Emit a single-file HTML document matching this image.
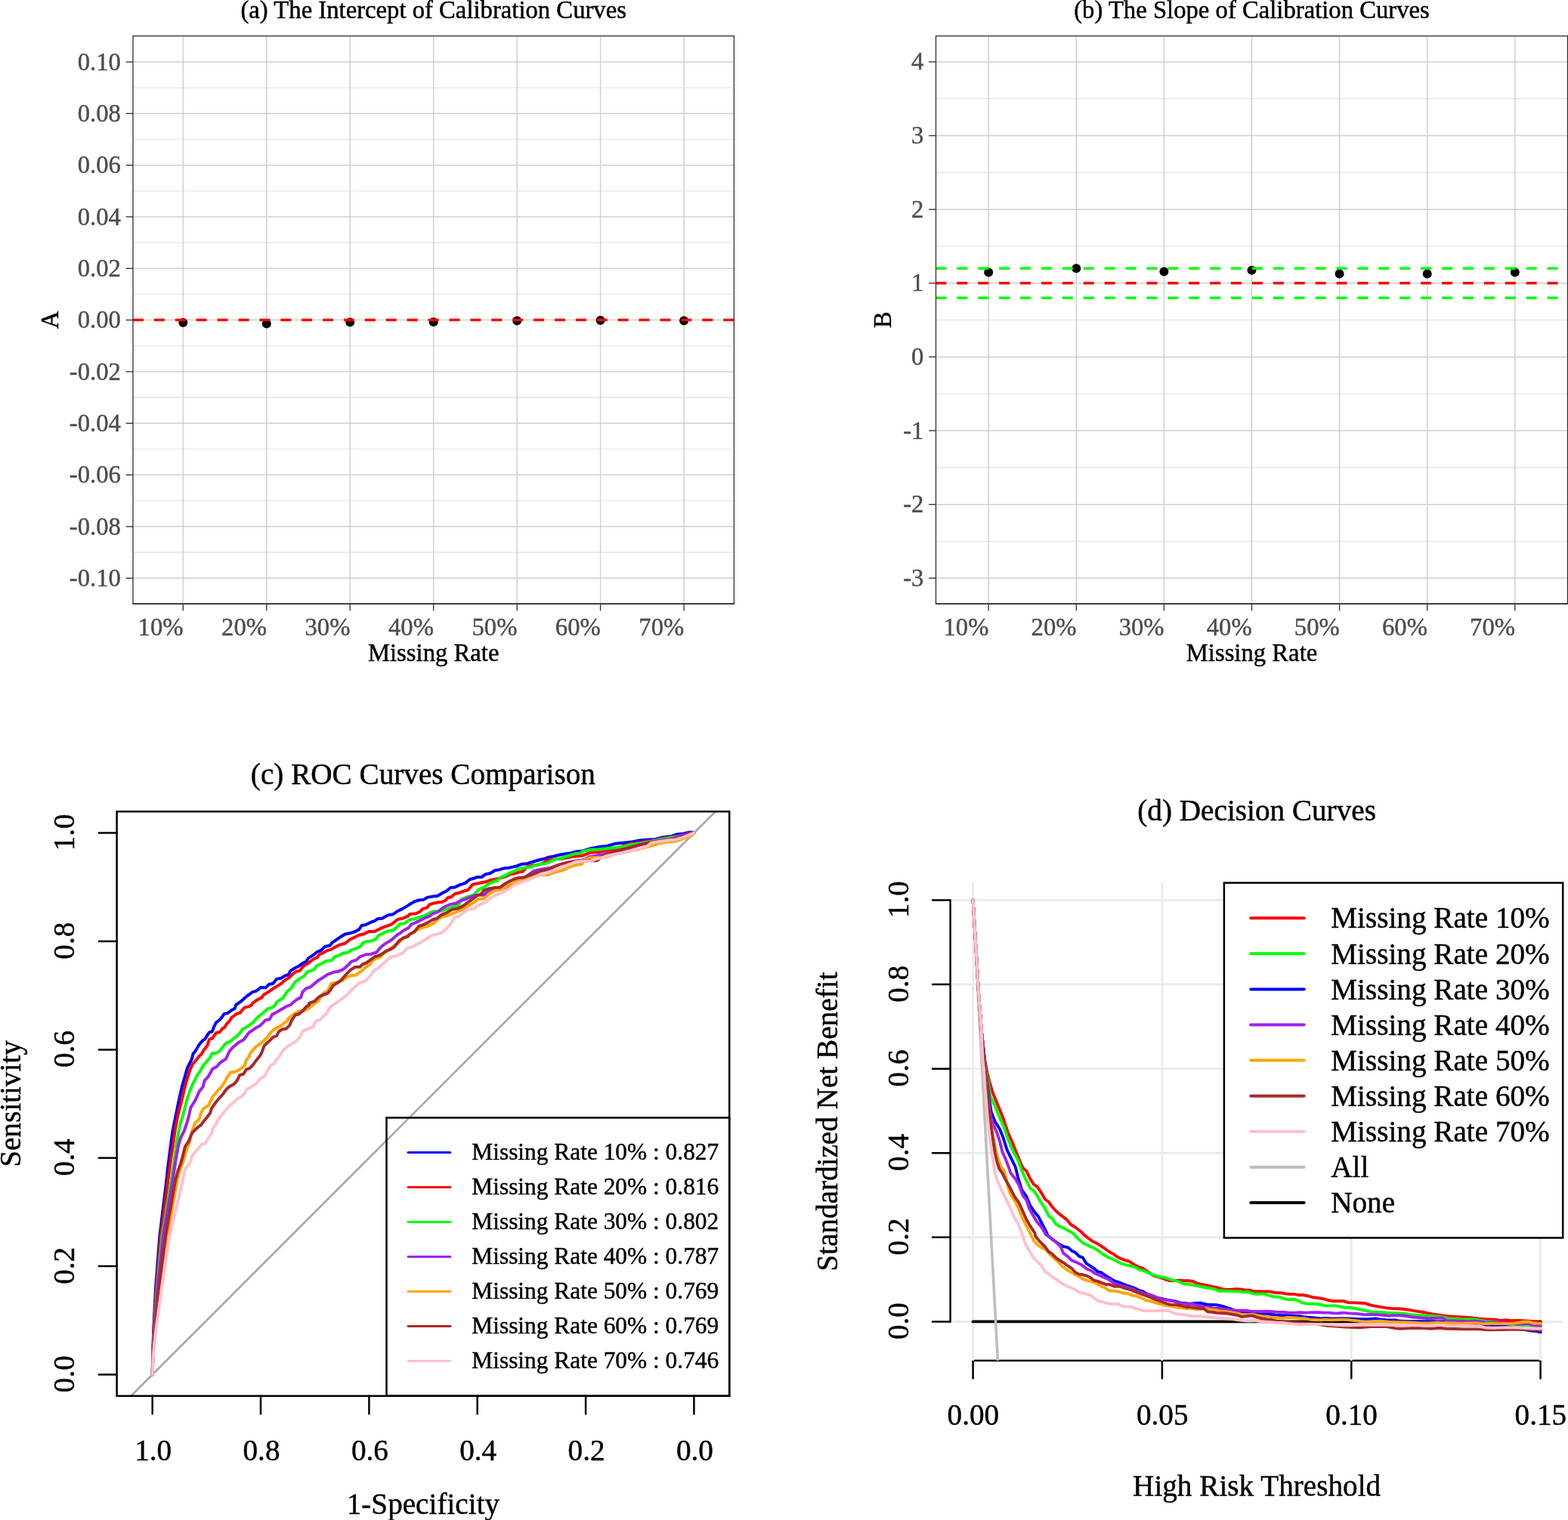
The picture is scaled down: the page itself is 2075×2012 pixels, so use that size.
<!DOCTYPE html>
<html lang="en"><head><meta charset="utf-8"><title>Calibration, ROC and Decision Curves</title>
<style>html,body{margin:0;padding:0;background:#fff}body{width:2075px;height:2012px;overflow:hidden}svg{display:block}text{white-space:pre;font-variant-ligatures:none;font-kerning:auto}</style>
</head><body>
<svg width="2075" height="2012" viewBox="0 0 2075 2012" font-family="'Liberation Serif', 'Times New Roman', serif">
<rect width="2075" height="2012" fill="#fff"/>
<g>
<line x1="176" y1="731.1" x2="971.4" y2="731.1" stroke="#e9e9e9" stroke-width="1.6" />
<line x1="176" y1="662.8" x2="971.4" y2="662.8" stroke="#e9e9e9" stroke-width="1.6" />
<line x1="176" y1="594.5" x2="971.4" y2="594.5" stroke="#e9e9e9" stroke-width="1.6" />
<line x1="176" y1="526.1" x2="971.4" y2="526.1" stroke="#e9e9e9" stroke-width="1.6" />
<line x1="176" y1="457.8" x2="971.4" y2="457.8" stroke="#e9e9e9" stroke-width="1.6" />
<line x1="176" y1="389.5" x2="971.4" y2="389.5" stroke="#e9e9e9" stroke-width="1.6" />
<line x1="176" y1="321.2" x2="971.4" y2="321.2" stroke="#e9e9e9" stroke-width="1.6" />
<line x1="176" y1="252.8" x2="971.4" y2="252.8" stroke="#e9e9e9" stroke-width="1.6" />
<line x1="176" y1="184.5" x2="971.4" y2="184.5" stroke="#e9e9e9" stroke-width="1.6" />
<line x1="176" y1="116.2" x2="971.4" y2="116.2" stroke="#e9e9e9" stroke-width="1.6" />
<line x1="176" y1="82" x2="971.4" y2="82" stroke="#d0d0d0" stroke-width="1.5" />
<line x1="176" y1="150.3" x2="971.4" y2="150.3" stroke="#d0d0d0" stroke-width="1.5" />
<line x1="176" y1="218.7" x2="971.4" y2="218.7" stroke="#d0d0d0" stroke-width="1.5" />
<line x1="176" y1="287" x2="971.4" y2="287" stroke="#d0d0d0" stroke-width="1.5" />
<line x1="176" y1="355.3" x2="971.4" y2="355.3" stroke="#d0d0d0" stroke-width="1.5" />
<line x1="176" y1="423.6" x2="971.4" y2="423.6" stroke="#d0d0d0" stroke-width="1.5" />
<line x1="176" y1="492" x2="971.4" y2="492" stroke="#d0d0d0" stroke-width="1.5" />
<line x1="176" y1="560.3" x2="971.4" y2="560.3" stroke="#d0d0d0" stroke-width="1.5" />
<line x1="176" y1="628.6" x2="971.4" y2="628.6" stroke="#d0d0d0" stroke-width="1.5" />
<line x1="176" y1="697" x2="971.4" y2="697" stroke="#d0d0d0" stroke-width="1.5" />
<line x1="176" y1="765.3" x2="971.4" y2="765.3" stroke="#d0d0d0" stroke-width="1.5" />
<line x1="242.3" y1="47.6" x2="242.3" y2="799.3" stroke="#d0d0d0" stroke-width="1.5" />
<line x1="352.8" y1="47.6" x2="352.8" y2="799.3" stroke="#d0d0d0" stroke-width="1.5" />
<line x1="463.2" y1="47.6" x2="463.2" y2="799.3" stroke="#d0d0d0" stroke-width="1.5" />
<line x1="573.7" y1="47.6" x2="573.7" y2="799.3" stroke="#d0d0d0" stroke-width="1.5" />
<line x1="684.2" y1="47.6" x2="684.2" y2="799.3" stroke="#d0d0d0" stroke-width="1.5" />
<line x1="794.6" y1="47.6" x2="794.6" y2="799.3" stroke="#d0d0d0" stroke-width="1.5" />
<line x1="905.1" y1="47.6" x2="905.1" y2="799.3" stroke="#d0d0d0" stroke-width="1.5" />
<circle cx="242.3" cy="427.1" r="6" fill="#000"/>
<circle cx="352.8" cy="428.6" r="6" fill="#000"/>
<circle cx="463.2" cy="426.5" r="6" fill="#000"/>
<circle cx="573.7" cy="426.3" r="6" fill="#000"/>
<circle cx="684.2" cy="424.6" r="6" fill="#000"/>
<circle cx="794.6" cy="424.1" r="6" fill="#000"/>
<circle cx="905.1" cy="424.4" r="6" fill="#000"/>
<line x1="176" y1="423.6" x2="971.4" y2="423.6" stroke="#f00" stroke-width="3.5" stroke-dasharray="13.95 13.95"/>
<rect x="176" y="47.6" width="795.4" height="751.7" fill="none" stroke="#333" stroke-width="1.35"/>
<line x1="176" y1="799.3" x2="971.4" y2="799.3" stroke="#000" stroke-width="1.3" />
<line x1="166.6" y1="82" x2="176" y2="82" stroke="#333" stroke-width="1.35" />
<line x1="166.6" y1="150.3" x2="176" y2="150.3" stroke="#333" stroke-width="1.35" />
<line x1="166.6" y1="218.7" x2="176" y2="218.7" stroke="#333" stroke-width="1.35" />
<line x1="166.6" y1="287" x2="176" y2="287" stroke="#333" stroke-width="1.35" />
<line x1="166.6" y1="355.3" x2="176" y2="355.3" stroke="#333" stroke-width="1.35" />
<line x1="166.6" y1="423.6" x2="176" y2="423.6" stroke="#333" stroke-width="1.35" />
<line x1="166.6" y1="492" x2="176" y2="492" stroke="#333" stroke-width="1.35" />
<line x1="166.6" y1="560.3" x2="176" y2="560.3" stroke="#333" stroke-width="1.35" />
<line x1="166.6" y1="628.6" x2="176" y2="628.6" stroke="#333" stroke-width="1.35" />
<line x1="166.6" y1="697" x2="176" y2="697" stroke="#333" stroke-width="1.35" />
<line x1="166.6" y1="765.3" x2="176" y2="765.3" stroke="#333" stroke-width="1.35" />
<line x1="242.3" y1="799.3" x2="242.3" y2="808.5" stroke="#333" stroke-width="1.35" />
<line x1="352.8" y1="799.3" x2="352.8" y2="808.5" stroke="#333" stroke-width="1.35" />
<line x1="463.2" y1="799.3" x2="463.2" y2="808.5" stroke="#333" stroke-width="1.35" />
<line x1="573.7" y1="799.3" x2="573.7" y2="808.5" stroke="#333" stroke-width="1.35" />
<line x1="684.2" y1="799.3" x2="684.2" y2="808.5" stroke="#333" stroke-width="1.35" />
<line x1="794.6" y1="799.3" x2="794.6" y2="808.5" stroke="#333" stroke-width="1.35" />
<line x1="905.1" y1="799.3" x2="905.1" y2="808.5" stroke="#333" stroke-width="1.35" />
<text transform="translate(159.9 92.5) scale(1 1.03)" font-size="32.7" fill="#4d4d4d" stroke="#4d4d4d" stroke-width="0.45" text-anchor="end" >0.10</text>
<text transform="translate(159.9 160.8) scale(1 1.03)" font-size="32.7" fill="#4d4d4d" stroke="#4d4d4d" stroke-width="0.45" text-anchor="end" >0.08</text>
<text transform="translate(159.9 229.2) scale(1 1.03)" font-size="32.7" fill="#4d4d4d" stroke="#4d4d4d" stroke-width="0.45" text-anchor="end" >0.06</text>
<text transform="translate(159.9 297.5) scale(1 1.03)" font-size="32.7" fill="#4d4d4d" stroke="#4d4d4d" stroke-width="0.45" text-anchor="end" >0.04</text>
<text transform="translate(159.9 365.8) scale(1 1.03)" font-size="32.7" fill="#4d4d4d" stroke="#4d4d4d" stroke-width="0.45" text-anchor="end" >0.02</text>
<text transform="translate(159.9 434.1) scale(1 1.03)" font-size="32.7" fill="#4d4d4d" stroke="#4d4d4d" stroke-width="0.45" text-anchor="end" >0.00</text>
<text transform="translate(159.9 502.5) scale(1 1.03)" font-size="32.7" fill="#4d4d4d" stroke="#4d4d4d" stroke-width="0.45" text-anchor="end" >-0.02</text>
<text transform="translate(159.9 570.8) scale(1 1.03)" font-size="32.7" fill="#4d4d4d" stroke="#4d4d4d" stroke-width="0.45" text-anchor="end" >-0.04</text>
<text transform="translate(159.9 639.1) scale(1 1.03)" font-size="32.7" fill="#4d4d4d" stroke="#4d4d4d" stroke-width="0.45" text-anchor="end" >-0.06</text>
<text transform="translate(159.9 707.5) scale(1 1.03)" font-size="32.7" fill="#4d4d4d" stroke="#4d4d4d" stroke-width="0.45" text-anchor="end" >-0.08</text>
<text transform="translate(159.9 775.8) scale(1 1.03)" font-size="32.7" fill="#4d4d4d" stroke="#4d4d4d" stroke-width="0.45" text-anchor="end" >-0.10</text>
<text transform="translate(242.5 841.3) scale(1 1.03)" font-size="32.7" fill="#4d4d4d" stroke="#4d4d4d" stroke-width="0.45" text-anchor="end" >10%</text>
<text transform="translate(353 841.3) scale(1 1.03)" font-size="32.7" fill="#4d4d4d" stroke="#4d4d4d" stroke-width="0.45" text-anchor="end" >20%</text>
<text transform="translate(463.4 841.3) scale(1 1.03)" font-size="32.7" fill="#4d4d4d" stroke="#4d4d4d" stroke-width="0.45" text-anchor="end" >30%</text>
<text transform="translate(573.9 841.3) scale(1 1.03)" font-size="32.7" fill="#4d4d4d" stroke="#4d4d4d" stroke-width="0.45" text-anchor="end" >40%</text>
<text transform="translate(684.4 841.3) scale(1 1.03)" font-size="32.7" fill="#4d4d4d" stroke="#4d4d4d" stroke-width="0.45" text-anchor="end" >50%</text>
<text transform="translate(794.8 841.3) scale(1 1.03)" font-size="32.7" fill="#4d4d4d" stroke="#4d4d4d" stroke-width="0.45" text-anchor="end" >60%</text>
<text transform="translate(905.3 841.3) scale(1 1.03)" font-size="32.7" fill="#4d4d4d" stroke="#4d4d4d" stroke-width="0.45" text-anchor="end" >70%</text>
<text transform="translate(573.7 874.5) scale(1 1.03)" font-size="32.7" fill="#000" stroke="#000" stroke-width="0.45" text-anchor="middle" >Missing Rate</text>
<text transform="translate(573.7 23.7) scale(1 1.03)" font-size="32.7" fill="#000" stroke="#000" stroke-width="0.45" text-anchor="middle" >(a) The Intercept of Calibration Curves</text>
<text transform="translate(76.5 423.4) rotate(-90) scale(1 1.03)" font-size="32.7" fill="#000" stroke="#000" stroke-width="0.45" text-anchor="middle" >A</text>
</g>
<g>
<line x1="1238.5" y1="716.5" x2="2074.5" y2="716.5" stroke="#e9e9e9" stroke-width="1.6" />
<line x1="1238.5" y1="618.9" x2="2074.5" y2="618.9" stroke="#e9e9e9" stroke-width="1.6" />
<line x1="1238.5" y1="521.2" x2="2074.5" y2="521.2" stroke="#e9e9e9" stroke-width="1.6" />
<line x1="1238.5" y1="423.6" x2="2074.5" y2="423.6" stroke="#e9e9e9" stroke-width="1.6" />
<line x1="1238.5" y1="326" x2="2074.5" y2="326" stroke="#e9e9e9" stroke-width="1.6" />
<line x1="1238.5" y1="228.4" x2="2074.5" y2="228.4" stroke="#e9e9e9" stroke-width="1.6" />
<line x1="1238.5" y1="130.8" x2="2074.5" y2="130.8" stroke="#e9e9e9" stroke-width="1.6" />
<line x1="1238.5" y1="81.9" x2="2074.5" y2="81.9" stroke="#d0d0d0" stroke-width="1.5" />
<line x1="1238.5" y1="179.6" x2="2074.5" y2="179.6" stroke="#d0d0d0" stroke-width="1.5" />
<line x1="1238.5" y1="277.2" x2="2074.5" y2="277.2" stroke="#d0d0d0" stroke-width="1.5" />
<line x1="1238.5" y1="374.8" x2="2074.5" y2="374.8" stroke="#d0d0d0" stroke-width="1.5" />
<line x1="1238.5" y1="472.4" x2="2074.5" y2="472.4" stroke="#d0d0d0" stroke-width="1.5" />
<line x1="1238.5" y1="570" x2="2074.5" y2="570" stroke="#d0d0d0" stroke-width="1.5" />
<line x1="1238.5" y1="667.7" x2="2074.5" y2="667.7" stroke="#d0d0d0" stroke-width="1.5" />
<line x1="1238.5" y1="765.3" x2="2074.5" y2="765.3" stroke="#d0d0d0" stroke-width="1.5" />
<line x1="1308.2" y1="47.6" x2="1308.2" y2="799.3" stroke="#d0d0d0" stroke-width="1.5" />
<line x1="1424.3" y1="47.6" x2="1424.3" y2="799.3" stroke="#d0d0d0" stroke-width="1.5" />
<line x1="1540.4" y1="47.6" x2="1540.4" y2="799.3" stroke="#d0d0d0" stroke-width="1.5" />
<line x1="1656.5" y1="47.6" x2="1656.5" y2="799.3" stroke="#d0d0d0" stroke-width="1.5" />
<line x1="1772.6" y1="47.6" x2="1772.6" y2="799.3" stroke="#d0d0d0" stroke-width="1.5" />
<line x1="1888.7" y1="47.6" x2="1888.7" y2="799.3" stroke="#d0d0d0" stroke-width="1.5" />
<line x1="2004.8" y1="47.6" x2="2004.8" y2="799.3" stroke="#d0d0d0" stroke-width="1.5" />
<circle cx="1308.2" cy="360.4" r="6" fill="#000"/>
<circle cx="1424.3" cy="355.2" r="6" fill="#000"/>
<circle cx="1540.4" cy="359.5" r="6" fill="#000"/>
<circle cx="1656.5" cy="357.7" r="6" fill="#000"/>
<circle cx="1772.6" cy="362.4" r="6" fill="#000"/>
<circle cx="1888.7" cy="362.4" r="6" fill="#000"/>
<circle cx="2004.8" cy="360.4" r="6" fill="#000"/>
<line x1="1238.5" y1="355.3" x2="2074.5" y2="355.3" stroke="#0f0" stroke-width="3.5" stroke-dasharray="13.95 13.95"/>
<line x1="1238.5" y1="374.8" x2="2074.5" y2="374.8" stroke="#f00" stroke-width="3.5" stroke-dasharray="13.95 13.95"/>
<line x1="1238.5" y1="394.3" x2="2074.5" y2="394.3" stroke="#0f0" stroke-width="3.5" stroke-dasharray="13.95 13.95"/>
<rect x="1238.5" y="47.6" width="836" height="751.7" fill="none" stroke="#333" stroke-width="1.35"/>
<line x1="1238.5" y1="799.3" x2="2074.5" y2="799.3" stroke="#000" stroke-width="1.3" />
<line x1="1229.1" y1="81.9" x2="1238.5" y2="81.9" stroke="#333" stroke-width="1.35" />
<line x1="1229.1" y1="179.6" x2="1238.5" y2="179.6" stroke="#333" stroke-width="1.35" />
<line x1="1229.1" y1="277.2" x2="1238.5" y2="277.2" stroke="#333" stroke-width="1.35" />
<line x1="1229.1" y1="374.8" x2="1238.5" y2="374.8" stroke="#333" stroke-width="1.35" />
<line x1="1229.1" y1="472.4" x2="1238.5" y2="472.4" stroke="#333" stroke-width="1.35" />
<line x1="1229.1" y1="570" x2="1238.5" y2="570" stroke="#333" stroke-width="1.35" />
<line x1="1229.1" y1="667.7" x2="1238.5" y2="667.7" stroke="#333" stroke-width="1.35" />
<line x1="1229.1" y1="765.3" x2="1238.5" y2="765.3" stroke="#333" stroke-width="1.35" />
<line x1="1308.2" y1="799.3" x2="1308.2" y2="808.5" stroke="#333" stroke-width="1.35" />
<line x1="1424.3" y1="799.3" x2="1424.3" y2="808.5" stroke="#333" stroke-width="1.35" />
<line x1="1540.4" y1="799.3" x2="1540.4" y2="808.5" stroke="#333" stroke-width="1.35" />
<line x1="1656.5" y1="799.3" x2="1656.5" y2="808.5" stroke="#333" stroke-width="1.35" />
<line x1="1772.6" y1="799.3" x2="1772.6" y2="808.5" stroke="#333" stroke-width="1.35" />
<line x1="1888.7" y1="799.3" x2="1888.7" y2="808.5" stroke="#333" stroke-width="1.35" />
<line x1="2004.8" y1="799.3" x2="2004.8" y2="808.5" stroke="#333" stroke-width="1.35" />
<text transform="translate(1222.4 92.4) scale(1 1.03)" font-size="32.7" fill="#4d4d4d" stroke="#4d4d4d" stroke-width="0.45" text-anchor="end" >4</text>
<text transform="translate(1222.4 190.1) scale(1 1.03)" font-size="32.7" fill="#4d4d4d" stroke="#4d4d4d" stroke-width="0.45" text-anchor="end" >3</text>
<text transform="translate(1222.4 287.7) scale(1 1.03)" font-size="32.7" fill="#4d4d4d" stroke="#4d4d4d" stroke-width="0.45" text-anchor="end" >2</text>
<text transform="translate(1222.4 385.3) scale(1 1.03)" font-size="32.7" fill="#4d4d4d" stroke="#4d4d4d" stroke-width="0.45" text-anchor="end" >1</text>
<text transform="translate(1222.4 482.9) scale(1 1.03)" font-size="32.7" fill="#4d4d4d" stroke="#4d4d4d" stroke-width="0.45" text-anchor="end" >0</text>
<text transform="translate(1222.4 580.5) scale(1 1.03)" font-size="32.7" fill="#4d4d4d" stroke="#4d4d4d" stroke-width="0.45" text-anchor="end" >-1</text>
<text transform="translate(1222.4 678.2) scale(1 1.03)" font-size="32.7" fill="#4d4d4d" stroke="#4d4d4d" stroke-width="0.45" text-anchor="end" >-2</text>
<text transform="translate(1222.4 775.8) scale(1 1.03)" font-size="32.7" fill="#4d4d4d" stroke="#4d4d4d" stroke-width="0.45" text-anchor="end" >-3</text>
<text transform="translate(1308.4 841.3) scale(1 1.03)" font-size="32.7" fill="#4d4d4d" stroke="#4d4d4d" stroke-width="0.45" text-anchor="end" >10%</text>
<text transform="translate(1424.5 841.3) scale(1 1.03)" font-size="32.7" fill="#4d4d4d" stroke="#4d4d4d" stroke-width="0.45" text-anchor="end" >20%</text>
<text transform="translate(1540.6 841.3) scale(1 1.03)" font-size="32.7" fill="#4d4d4d" stroke="#4d4d4d" stroke-width="0.45" text-anchor="end" >30%</text>
<text transform="translate(1656.7 841.3) scale(1 1.03)" font-size="32.7" fill="#4d4d4d" stroke="#4d4d4d" stroke-width="0.45" text-anchor="end" >40%</text>
<text transform="translate(1772.8 841.3) scale(1 1.03)" font-size="32.7" fill="#4d4d4d" stroke="#4d4d4d" stroke-width="0.45" text-anchor="end" >50%</text>
<text transform="translate(1888.9 841.3) scale(1 1.03)" font-size="32.7" fill="#4d4d4d" stroke="#4d4d4d" stroke-width="0.45" text-anchor="end" >60%</text>
<text transform="translate(2005 841.3) scale(1 1.03)" font-size="32.7" fill="#4d4d4d" stroke="#4d4d4d" stroke-width="0.45" text-anchor="end" >70%</text>
<text transform="translate(1656.5 874.5) scale(1 1.03)" font-size="32.7" fill="#000" stroke="#000" stroke-width="0.45" text-anchor="middle" >Missing Rate</text>
<text transform="translate(1656.5 23.7) scale(1 1.03)" font-size="32.7" fill="#000" stroke="#000" stroke-width="0.45" text-anchor="middle" >(b) The Slope of Calibration Curves</text>
<text transform="translate(1178.5 423.4) rotate(-90) scale(1 1.03)" font-size="32.7" fill="#000" stroke="#000" stroke-width="0.45" text-anchor="middle" >B</text>
</g>
<clipPath id="cc"><rect x="154.6" y="1074.2" width="810.6" height="773.6"/></clipPath>
<g>
<g clip-path="url(#cc)">
<line x1="154.4" y1="1866.8" x2="965.7" y2="1055.3" stroke="#a9a9a9" stroke-width="2.8" />
<path d="M201.7,1819.5 L202.2,1790.0 L203.2,1759.0 L206.0,1705.0 L211.3,1636.5 L220.4,1562.0 L222.1,1545.5 L224.9,1523.5 L228.2,1499.0 L231.0,1484.3 L233.1,1474.5 L236.3,1458.6 L239.0,1446.3 L242.0,1434.1 L245.3,1423.1 L247.6,1414.5 L250.6,1408.4 L253.7,1402.2 L255.5,1394.9 L258.6,1391.2 L262.2,1385.1 L264.1,1382.0 L268.4,1377.1 L271.4,1375.3 L273.9,1371.0 L276.9,1366.7 L280.6,1365.5 L283.1,1359.4 L286.1,1353.3 L290.4,1350.2 L294.1,1345.9 L296.5,1342.2 L301.4,1341.0 L306.3,1337.3 L310.6,1334.9 L312.4,1330.0 L318.4,1325.9 L324.5,1320.4 L329.4,1316.7 L334.3,1313.1 L339.2,1311.8 L345.3,1306.9 L351.4,1307.6 L356.3,1302.7 L361.2,1302.0 L366.1,1295.9 L372.2,1294.7 L377.1,1291.6 L382.0,1289.8 L384.5,1284.9 L390.6,1281.2 L395.5,1278.8 L400.4,1275.1 L405.3,1272.7 L407.8,1268.4 L413.9,1264.7 L420.0,1259.8 L424.9,1258.0 L429.8,1253.1 L437.1,1251.2 L439.6,1247.6 L444.5,1244.5 L450.6,1240.2 L456.7,1236.5 L462.9,1235.3 L469.0,1233.5 L475.1,1230.4 L478.8,1224.9 L483.7,1224.3 L489.8,1221.2 L495.9,1218.8 L499.6,1216.3 L505.7,1215.7 L513.1,1211.4 L520.4,1210.2 L525.3,1206.5 L532.7,1202.9 L540.0,1198.6 L542.2,1197.0 L548.4,1193.4 L554.5,1191.5 L560.6,1190.9 L565.5,1187.9 L572.9,1186.6 L579.0,1186.0 L585.1,1182.3 L591.2,1179.3 L596.1,1175.0 L602.2,1174.4 L608.4,1171.3 L615.7,1168.9 L621.8,1164.0 L626.7,1162.8 L631.6,1160.9 L637.8,1160.9 L642.7,1157.2 L648.8,1156.0 L654.9,1152.3 L661.0,1151.1 L667.1,1149.3 L673.3,1148.7 L679.4,1147.4 L684.3,1146.2 L690.4,1143.8 L697.8,1143.2 L705.1,1140.7 L713.7,1138.3 L719.8,1137.0 L725.9,1134.6 L733.3,1133.4 L740.6,1131.5 L748.0,1130.3 L755.3,1129.1 L762.7,1127.2 L770.0,1126.6 L781.4,1123.2 L792.1,1121.1 L802.9,1120.0 L813.6,1116.8 L824.3,1115.7 L835.0,1114.6 L845.7,1112.5 L856.4,1111.4 L867.1,1110.9 L877.9,1108.2 L888.6,1107.1 L895.0,1104.5 L904.6,1103.4 L912.1,1101.8 L917.5,1101.8 L918.4,1102.6" fill="none" stroke="#0000ff" stroke-width="4.0" stroke-linejoin="round" stroke-linecap="round"/>
<path d="M201.7,1819.5 L202.3,1790.0 L203.6,1759.0 L206.9,1705.0 L212.9,1636.5 L222.4,1562.0 L225.5,1538.2 L229.2,1513.7 L232.2,1492.9 L235.3,1476.9 L239.0,1462.2 L242.7,1447.6 L245.1,1436.5 L248.2,1426.7 L251.2,1416.9 L254.3,1409.6 L256.7,1406.5 L260.4,1402.2 L263.5,1398.0 L266.5,1395.5 L269.6,1390.0 L274.5,1383.9 L276.9,1375.9 L280.6,1374.7 L286.1,1367.3 L291.0,1366.1 L294.1,1361.8 L297.1,1360.0 L300.2,1355.1 L303.9,1351.4 L306.3,1347.1 L311.2,1343.5 L313.7,1341.6 L317.3,1341.0 L319.8,1338.0 L323.5,1333.7 L329.6,1332.4 L333.3,1330.0 L334.3,1327.8 L340.4,1323.5 L346.5,1320.4 L349.0,1316.7 L355.1,1313.1 L361.2,1308.8 L367.3,1305.1 L372.2,1302.0 L375.9,1298.4 L383.3,1293.5 L388.2,1288.6 L391.8,1286.1 L396.7,1284.9 L401.6,1278.8 L407.8,1275.1 L413.9,1270.2 L420.0,1267.1 L422.4,1263.5 L427.3,1261.6 L432.2,1258.6 L438.4,1256.7 L443.3,1253.7 L449.4,1250.6 L456.7,1248.8 L462.9,1243.9 L469.0,1240.8 L475.1,1237.8 L481.2,1236.5 L488.6,1232.9 L495.9,1232.9 L503.3,1229.2 L510.6,1226.1 L518.0,1223.7 L524.1,1218.8 L526.5,1216.9 L532.7,1215.7 L540.0,1212.7 L542.2,1209.9 L550.8,1209.3 L555.7,1206.8 L559.4,1203.2 L565.5,1201.3 L568.0,1197.7 L572.9,1195.8 L579.0,1194.6 L585.1,1194.0 L590.0,1191.5 L592.4,1188.5 L597.3,1187.2 L602.2,1183.0 L608.4,1181.7 L614.5,1179.3 L619.4,1178.1 L625.5,1170.7 L631.6,1169.5 L637.8,1168.3 L643.9,1167.0 L650.0,1164.6 L657.3,1163.4 L664.7,1161.5 L670.8,1159.7 L674.5,1157.2 L679.4,1156.6 L685.5,1154.8 L691.6,1153.6 L697.8,1147.4 L703.9,1145.6 L711.2,1145.0 L718.6,1142.6 L724.7,1138.9 L730.8,1137.7 L738.2,1137.0 L744.3,1136.4 L750.4,1135.2 L756.5,1134.0 L762.7,1133.4 L770.0,1132.8 L781.4,1128.6 L792.1,1128.0 L802.9,1125.9 L813.6,1124.3 L824.3,1120.0 L835.0,1116.8 L845.7,1115.7 L856.4,1113.6 L867.1,1112.5 L872.5,1110.4 L877.9,1109.8 L888.6,1108.2 L899.3,1106.6 L910.0,1103.9 L917.5,1102.3 L918.4,1102.6" fill="none" stroke="#ff0000" stroke-width="4.0" stroke-linejoin="round" stroke-linecap="round"/>
<path d="M201.7,1819.5 L202.4,1790.0 L204.0,1759.0 L207.8,1705.0 L214.5,1636.5 L226.7,1562.0 L230.4,1538.2 L234.7,1507.6 L238.4,1488.0 L242.7,1474.5 L246.3,1459.8 L250.0,1447.6 L254.9,1435.3 L260.4,1424.3 L264.7,1418.2 L269.6,1409.6 L274.5,1404.1 L278.2,1399.8 L280.6,1394.3 L284.9,1394.3 L290.4,1391.8 L294.1,1386.9 L298.4,1381.4 L305.1,1378.4 L310.0,1374.1 L314.9,1370.4 L318.6,1366.1 L321.6,1361.8 L324.7,1360.6 L330.8,1356.3 L335.1,1353.3 L338.2,1349.6 L341.8,1345.9 L348.0,1341.0 L354.1,1335.5 L361.4,1333.1 L364.5,1330.0 L366.1,1326.5 L374.7,1321.0 L379.6,1313.1 L385.7,1307.6 L390.6,1299.6 L396.7,1295.3 L401.6,1292.9 L406.5,1286.7 L416.3,1283.1 L418.8,1278.8 L424.9,1275.7 L432.2,1272.0 L438.4,1271.4 L443.3,1266.5 L449.4,1264.1 L454.3,1261.6 L460.4,1261.0 L465.3,1257.3 L471.4,1255.5 L477.6,1252.4 L480.0,1248.2 L484.9,1246.3 L491.0,1245.7 L497.1,1243.3 L500.8,1238.4 L508.2,1234.7 L514.3,1232.2 L520.4,1231.6 L526.5,1226.1 L529.0,1223.1 L535.1,1222.4 L540.0,1218.8 L542.2,1217.2 L548.4,1216.6 L554.5,1214.2 L561.8,1212.3 L568.0,1208.7 L574.1,1206.2 L579.0,1206.2 L585.1,1205.6 L591.2,1203.2 L598.6,1200.7 L605.9,1198.9 L610.8,1190.3 L618.2,1187.2 L626.7,1184.8 L634.1,1176.8 L640.2,1175.0 L646.3,1170.1 L652.4,1167.7 L658.6,1165.2 L662.2,1161.5 L668.4,1159.1 L673.3,1156.0 L680.6,1153.0 L686.7,1149.9 L694.1,1148.7 L701.4,1148.1 L707.6,1145.6 L713.7,1143.8 L721.0,1143.2 L727.1,1141.3 L733.3,1137.7 L740.6,1136.4 L748.0,1134.0 L754.1,1132.1 L760.2,1130.3 L770.0,1129.1 L770.7,1127.0 L781.4,1124.8 L792.1,1124.3 L802.9,1123.2 L813.6,1122.1 L824.3,1121.1 L832.9,1118.4 L845.7,1116.8 L856.4,1114.6 L867.1,1112.5 L877.9,1110.4 L888.6,1108.8 L899.3,1107.1 L910.0,1103.9 L917.5,1102.3 L918.4,1102.6" fill="none" stroke="#00ff00" stroke-width="4.0" stroke-linejoin="round" stroke-linecap="round"/>
<path d="M201.7,1819.5 L202.5,1790.0 L204.3,1759.0 L208.5,1705.0 L215.9,1636.5 L228.6,1562.0 L232.2,1538.2 L235.9,1517.3 L239.0,1506.3 L243.9,1496.5 L247.6,1485.5 L250.0,1476.9 L252.4,1465.9 L258.6,1456.1 L263.5,1445.1 L268.4,1439.0 L270.8,1430.4 L275.7,1424.9 L281.2,1415.1 L286.7,1412.0 L291.6,1406.5 L299.0,1401.6 L303.9,1391.2 L308.8,1385.7 L316.1,1379.6 L322.2,1376.5 L329.6,1366.7 L333.3,1364.3 L339.4,1360.0 L344.3,1357.6 L351.6,1350.2 L356.5,1349.6 L360.2,1342.9 L363.9,1341.0 L371.2,1336.7 L378.6,1332.4 L384.7,1330.0 L386.9,1327.8 L393.1,1322.9 L398.0,1320.4 L400.4,1313.1 L405.3,1308.2 L410.2,1306.9 L416.3,1302.0 L421.2,1297.8 L427.3,1294.1 L433.5,1289.8 L442.0,1286.7 L446.9,1286.1 L454.3,1283.1 L459.2,1278.8 L465.3,1272.7 L471.4,1270.8 L476.3,1266.5 L483.7,1263.5 L491.0,1262.9 L498.4,1260.4 L503.3,1254.3 L509.4,1249.4 L515.5,1245.7 L519.2,1243.3 L525.3,1237.8 L530.2,1234.7 L535.1,1231.0 L540.0,1228.6 L544.7,1223.4 L550.8,1220.9 L556.9,1217.9 L563.1,1214.8 L569.2,1212.3 L572.9,1209.3 L579.0,1207.4 L583.9,1203.2 L590.0,1199.5 L596.1,1197.0 L603.5,1195.8 L608.4,1192.8 L615.7,1190.3 L621.8,1187.9 L628.0,1185.4 L634.1,1184.8 L640.2,1184.8 L646.3,1179.3 L652.4,1177.4 L664.7,1175.6 L672.0,1175.0 L680.6,1169.5 L689.2,1164.6 L695.3,1160.9 L701.4,1156.6 L706.3,1153.0 L713.7,1151.1 L721.0,1149.9 L728.4,1148.7 L735.7,1146.2 L743.1,1144.4 L750.4,1141.9 L756.5,1140.7 L762.7,1139.5 L770.0,1138.9 L781.4,1133.9 L797.5,1131.2 L808.2,1128.6 L824.3,1124.3 L835.0,1122.1 L845.7,1118.9 L856.4,1115.7 L867.1,1113.6 L877.9,1112.0 L888.6,1110.4 L899.3,1107.1 L910.0,1103.4 L917.5,1102.3 L918.4,1102.6" fill="none" stroke="#a020f0" stroke-width="4.0" stroke-linejoin="round" stroke-linecap="round"/>
<path d="M201.7,1819.5 L202.8,1790.0 L205.3,1759.0 L211.0,1705.0 L221.3,1636.5 L234.7,1562.0 L237.8,1550.4 L242.7,1536.9 L246.3,1523.5 L251.2,1511.2 L253.7,1499.0 L258.0,1486.7 L263.5,1481.8 L265.9,1473.3 L269.6,1467.1 L275.7,1463.5 L278.2,1458.6 L281.8,1451.2 L288.0,1443.9 L292.9,1439.0 L297.8,1431.6 L300.2,1426.7 L305.1,1419.4 L311.2,1418.8 L317.3,1415.7 L323.5,1410.8 L325.9,1403.5 L329.6,1398.6 L330.8,1394.9 L334.5,1390.0 L339.4,1385.1 L343.1,1382.7 L348.0,1378.4 L354.1,1372.9 L357.8,1367.3 L362.7,1362.4 L366.3,1360.6 L372.4,1357.6 L376.1,1353.9 L379.8,1352.0 L381.0,1349.0 L387.1,1343.5 L395.7,1338.6 L404.3,1337.3 L409.2,1334.3 L414.1,1330.0 L415.1,1329.0 L421.2,1325.3 L423.7,1320.4 L428.6,1314.3 L433.5,1311.8 L438.4,1302.0 L444.5,1300.8 L453.1,1297.8 L459.2,1293.5 L465.3,1291.0 L470.2,1291.0 L473.9,1288.6 L478.8,1284.9 L483.7,1280.6 L489.8,1276.3 L492.2,1272.7 L497.1,1269.0 L503.3,1267.1 L508.2,1261.6 L513.1,1258.0 L519.2,1253.7 L525.3,1249.4 L530.2,1245.7 L535.1,1240.8 L540.0,1238.4 L542.2,1236.8 L548.4,1233.2 L554.5,1229.5 L559.4,1227.7 L566.7,1225.8 L574.1,1222.1 L579.0,1217.2 L585.1,1213.6 L591.2,1212.3 L597.3,1209.9 L603.5,1207.4 L609.6,1205.0 L615.7,1201.3 L621.8,1197.7 L628.0,1194.0 L632.9,1190.3 L640.2,1189.7 L645.1,1185.4 L650.0,1181.7 L654.9,1178.7 L661.0,1178.1 L665.9,1175.6 L672.0,1172.6 L676.9,1169.5 L681.8,1167.0 L689.2,1164.6 L695.3,1162.8 L701.4,1160.9 L707.6,1158.5 L713.7,1158.5 L721.0,1157.9 L725.9,1157.9 L732.0,1155.4 L738.2,1153.6 L745.5,1151.7 L751.6,1148.7 L757.8,1146.2 L765.1,1144.4 L770.0,1143.8 L772.9,1138.2 L781.4,1135.5 L792.1,1135.0 L802.9,1133.9 L813.6,1130.7 L824.3,1128.6 L835.0,1126.4 L845.7,1123.8 L856.4,1121.1 L865.0,1118.9 L872.5,1116.2 L883.2,1114.6 L893.9,1113.6 L899.3,1112.0 L910.0,1107.7 L915.4,1106.1 L917.5,1103.9 L918.4,1102.6" fill="none" stroke="#ffa500" stroke-width="4.0" stroke-linejoin="round" stroke-linecap="round"/>
<path d="M201.7,1819.5 L202.7,1790.0 L205.0,1759.0 L210.1,1705.0 L219.0,1636.5 L232.2,1562.0 L235.3,1550.4 L239.0,1540.6 L242.0,1529.6 L245.1,1517.3 L249.4,1511.2 L252.4,1503.9 L254.3,1499.6 L261.0,1492.9 L265.9,1489.2 L269.6,1484.3 L274.5,1478.2 L278.2,1473.3 L280.0,1467.1 L284.3,1461.0 L288.0,1456.1 L294.1,1449.4 L299.0,1442.7 L302.7,1439.0 L310.0,1434.7 L313.7,1430.4 L317.3,1423.1 L322.2,1421.8 L325.9,1415.7 L330.8,1413.9 L335.7,1408.4 L338.2,1404.7 L344.3,1397.3 L346.7,1392.4 L349.8,1383.9 L356.5,1377.8 L361.4,1372.9 L366.3,1371.0 L368.8,1365.5 L373.7,1362.4 L378.6,1361.8 L383.5,1356.9 L385.9,1350.8 L390.8,1343.5 L395.7,1342.2 L400.6,1338.0 L405.5,1332.4 L409.2,1330.0 L409.0,1327.8 L416.3,1325.3 L421.2,1320.4 L424.9,1318.0 L433.5,1314.9 L437.1,1310.6 L440.8,1304.5 L446.9,1300.8 L451.8,1297.1 L458.0,1289.8 L464.1,1283.7 L470.2,1280.0 L476.3,1280.0 L480.0,1276.3 L484.9,1274.5 L491.0,1270.2 L495.9,1266.5 L503.3,1264.1 L510.6,1259.2 L516.7,1256.7 L521.6,1253.7 L527.8,1245.7 L532.7,1242.0 L540.0,1239.6 L541.0,1237.4 L548.4,1233.2 L554.5,1225.8 L560.6,1224.0 L566.7,1220.9 L572.9,1217.2 L577.8,1216.0 L583.9,1211.1 L591.2,1208.1 L598.6,1203.8 L605.9,1202.6 L613.3,1198.9 L620.6,1193.4 L626.7,1189.1 L631.6,1185.4 L636.5,1183.6 L640.2,1178.7 L647.6,1176.2 L654.9,1175.0 L662.2,1174.4 L667.1,1170.7 L673.3,1167.0 L679.4,1164.0 L685.5,1162.1 L692.9,1161.5 L699.0,1159.1 L706.3,1156.6 L713.7,1153.6 L721.0,1151.7 L728.4,1149.9 L735.7,1146.2 L740.6,1144.4 L750.4,1141.9 L762.7,1140.1 L770.0,1139.5 L781.4,1139.3 L790.0,1139.3 L797.5,1132.9 L808.2,1129.6 L815.7,1126.4 L824.3,1124.3 L835.0,1121.1 L845.7,1118.4 L856.4,1116.2 L861.8,1114.6 L872.5,1113.6 L883.2,1112.0 L893.9,1110.4 L904.6,1107.1 L912.1,1103.9 L917.5,1102.3 L918.4,1102.6" fill="none" stroke="#a52a2a" stroke-width="4.0" stroke-linejoin="round" stroke-linecap="round"/>
<path d="M201.7,1819.5 L203.2,1790.0 L206.5,1759.0 L214.0,1705.0 L224.5,1636.5 L242.0,1562.0 L243.9,1551.6 L246.3,1545.5 L250.0,1541.8 L252.4,1536.9 L253.7,1530.8 L258.6,1524.7 L263.5,1519.2 L266.5,1514.9 L271.4,1513.7 L275.7,1506.3 L280.6,1499.0 L281.2,1494.1 L285.5,1489.2 L288.0,1483.1 L291.6,1478.2 L296.5,1472.0 L303.9,1463.5 L308.8,1459.8 L313.7,1454.9 L319.8,1451.2 L323.5,1447.6 L325.9,1442.7 L333.3,1437.8 L339.4,1434.1 L344.3,1428.0 L350.4,1424.3 L354.7,1415.7 L359.0,1409.6 L362.7,1408.4 L365.1,1403.5 L370.0,1398.0 L374.9,1390.0 L382.2,1383.9 L390.8,1379.0 L396.9,1372.9 L400.6,1364.9 L408.0,1361.8 L414.1,1359.4 L417.8,1352.0 L423.9,1349.6 L430.0,1343.5 L432.2,1341.2 L437.1,1332.7 L444.5,1327.8 L451.8,1322.9 L458.0,1318.0 L464.1,1311.8 L470.2,1305.7 L476.3,1300.8 L483.7,1298.4 L489.8,1292.2 L494.7,1284.9 L500.8,1281.2 L506.9,1275.7 L513.1,1270.2 L518.0,1266.5 L525.3,1265.3 L532.7,1261.6 L537.6,1256.7 L540.0,1254.3 L544.7,1254.0 L552.0,1249.7 L559.4,1246.0 L564.3,1243.0 L570.4,1238.7 L579.0,1236.2 L585.1,1234.4 L591.2,1228.9 L597.3,1221.5 L601.0,1214.8 L607.1,1213.0 L613.3,1208.1 L619.4,1203.8 L628.0,1202.6 L631.6,1198.9 L637.8,1196.4 L643.9,1193.4 L648.8,1189.1 L657.3,1184.2 L662.2,1183.0 L668.4,1179.3 L674.5,1176.2 L680.6,1171.3 L686.7,1168.9 L692.9,1167.0 L699.0,1164.6 L705.1,1162.1 L711.2,1159.7 L718.6,1157.2 L725.9,1154.8 L732.0,1152.3 L738.2,1149.9 L743.1,1147.4 L749.2,1145.6 L756.5,1143.2 L762.7,1140.7 L770.0,1140.1 L781.4,1139.8 L790.0,1136.6 L797.5,1135.0 L802.9,1132.9 L813.6,1130.7 L824.3,1129.1 L835.0,1125.9 L845.7,1123.2 L856.4,1120.5 L861.8,1115.7 L872.5,1114.1 L883.2,1112.5 L893.9,1111.4 L901.4,1109.3 L910.0,1106.1 L917.5,1102.9 L918.4,1102.6" fill="none" stroke="#ffc0cb" stroke-width="4.0" stroke-linejoin="round" stroke-linecap="round"/>
</g>
<rect x="154.6" y="1074.2" width="810.6" height="773.6" fill="none" stroke="#000" stroke-width="2.5"/>
<line x1="918.4" y1="1847.8" x2="918.4" y2="1871.5" stroke="#000" stroke-width="2.5" stroke-linecap="round"/>
<text transform="translate(919.4 1933.2) scale(1 1.03)" font-size="39.2" fill="#000" stroke="#000" stroke-width="0.45" text-anchor="middle" >0.0</text>
<line x1="130.9" y1="1819.5" x2="154.6" y2="1819.5" stroke="#000" stroke-width="2.5" stroke-linecap="round"/>
<text transform="translate(98 1818.7) rotate(-90) scale(1 1.03)" font-size="39.2" fill="#000" stroke="#000" stroke-width="0.45" text-anchor="middle" >0.0</text>
<line x1="775.1" y1="1847.8" x2="775.1" y2="1871.5" stroke="#000" stroke-width="2.5" stroke-linecap="round"/>
<text transform="translate(776.1 1933.2) scale(1 1.03)" font-size="39.2" fill="#000" stroke="#000" stroke-width="0.45" text-anchor="middle" >0.2</text>
<line x1="130.9" y1="1676.1" x2="154.6" y2="1676.1" stroke="#000" stroke-width="2.5" stroke-linecap="round"/>
<text transform="translate(98 1675.3) rotate(-90) scale(1 1.03)" font-size="39.2" fill="#000" stroke="#000" stroke-width="0.45" text-anchor="middle" >0.2</text>
<line x1="631.7" y1="1847.8" x2="631.7" y2="1871.5" stroke="#000" stroke-width="2.5" stroke-linecap="round"/>
<text transform="translate(632.7 1933.2) scale(1 1.03)" font-size="39.2" fill="#000" stroke="#000" stroke-width="0.45" text-anchor="middle" >0.4</text>
<line x1="130.9" y1="1532.7" x2="154.6" y2="1532.7" stroke="#000" stroke-width="2.5" stroke-linecap="round"/>
<text transform="translate(98 1531.9) rotate(-90) scale(1 1.03)" font-size="39.2" fill="#000" stroke="#000" stroke-width="0.45" text-anchor="middle" >0.4</text>
<line x1="488.4" y1="1847.8" x2="488.4" y2="1871.5" stroke="#000" stroke-width="2.5" stroke-linecap="round"/>
<text transform="translate(489.4 1933.2) scale(1 1.03)" font-size="39.2" fill="#000" stroke="#000" stroke-width="0.45" text-anchor="middle" >0.6</text>
<line x1="130.9" y1="1389.4" x2="154.6" y2="1389.4" stroke="#000" stroke-width="2.5" stroke-linecap="round"/>
<text transform="translate(98 1388.6) rotate(-90) scale(1 1.03)" font-size="39.2" fill="#000" stroke="#000" stroke-width="0.45" text-anchor="middle" >0.6</text>
<line x1="345" y1="1847.8" x2="345" y2="1871.5" stroke="#000" stroke-width="2.5" stroke-linecap="round"/>
<text transform="translate(346 1933.2) scale(1 1.03)" font-size="39.2" fill="#000" stroke="#000" stroke-width="0.45" text-anchor="middle" >0.8</text>
<line x1="130.9" y1="1246" x2="154.6" y2="1246" stroke="#000" stroke-width="2.5" stroke-linecap="round"/>
<text transform="translate(98 1245.2) rotate(-90) scale(1 1.03)" font-size="39.2" fill="#000" stroke="#000" stroke-width="0.45" text-anchor="middle" >0.8</text>
<line x1="201.7" y1="1847.8" x2="201.7" y2="1871.5" stroke="#000" stroke-width="2.5" stroke-linecap="round"/>
<text transform="translate(202.7 1933.2) scale(1 1.03)" font-size="39.2" fill="#000" stroke="#000" stroke-width="0.45" text-anchor="middle" >1.0</text>
<line x1="130.9" y1="1102.6" x2="154.6" y2="1102.6" stroke="#000" stroke-width="2.5" stroke-linecap="round"/>
<text transform="translate(98 1101.8) rotate(-90) scale(1 1.03)" font-size="39.2" fill="#000" stroke="#000" stroke-width="0.45" text-anchor="middle" >1.0</text>
<text transform="translate(559.9 1037.6) scale(1 1.03)" font-size="39.2" fill="#000" stroke="#000" stroke-width="0.45" text-anchor="middle" >(c) ROC Curves Comparison</text>
<text transform="translate(559.9 2004) scale(1 1.03)" font-size="39.2" fill="#000" stroke="#000" stroke-width="0.45" text-anchor="middle" >1-Specificity</text>
<text transform="translate(27 1461) rotate(-90) scale(1 1.03)" font-size="39.2" fill="#000" stroke="#000" stroke-width="0.45" text-anchor="middle" >Sensitivity</text>
<rect x="511.5" y="1479.5" width="453.7" height="368.3" fill="none" stroke="#000" stroke-width="2.5"/>
<line x1="540.1" y1="1525.6" x2="595.9" y2="1525.6" stroke="#0000ff" stroke-width="3.0" stroke-linecap="round"/>
<text transform="translate(624.3 1535.4) scale(1 1.03)" font-size="31.4" fill="#000" stroke="#000" stroke-width="0.45" text-anchor="start" >Missing Rate 10% : 0.827</text>
<line x1="540.1" y1="1571.6" x2="595.9" y2="1571.6" stroke="#ff0000" stroke-width="3.0" stroke-linecap="round"/>
<text transform="translate(624.3 1581.4) scale(1 1.03)" font-size="31.4" fill="#000" stroke="#000" stroke-width="0.45" text-anchor="start" >Missing Rate 20% : 0.816</text>
<line x1="540.1" y1="1617.6" x2="595.9" y2="1617.6" stroke="#00ff00" stroke-width="3.0" stroke-linecap="round"/>
<text transform="translate(624.3 1627.4) scale(1 1.03)" font-size="31.4" fill="#000" stroke="#000" stroke-width="0.45" text-anchor="start" >Missing Rate 30% : 0.802</text>
<line x1="540.1" y1="1663.6" x2="595.9" y2="1663.6" stroke="#a020f0" stroke-width="3.0" stroke-linecap="round"/>
<text transform="translate(624.3 1673.4) scale(1 1.03)" font-size="31.4" fill="#000" stroke="#000" stroke-width="0.45" text-anchor="start" >Missing Rate 40% : 0.787</text>
<line x1="540.1" y1="1709.6" x2="595.9" y2="1709.6" stroke="#ffa500" stroke-width="3.0" stroke-linecap="round"/>
<text transform="translate(624.3 1719.4) scale(1 1.03)" font-size="31.4" fill="#000" stroke="#000" stroke-width="0.45" text-anchor="start" >Missing Rate 50% : 0.769</text>
<line x1="540.1" y1="1755.6" x2="595.9" y2="1755.6" stroke="#a52a2a" stroke-width="3.0" stroke-linecap="round"/>
<text transform="translate(624.3 1765.4) scale(1 1.03)" font-size="31.4" fill="#000" stroke="#000" stroke-width="0.45" text-anchor="start" >Missing Rate 60% : 0.769</text>
<line x1="540.1" y1="1801.6" x2="595.9" y2="1801.6" stroke="#ffc0cb" stroke-width="3.0" stroke-linecap="round"/>
<text transform="translate(624.3 1811.4) scale(1 1.03)" font-size="31.4" fill="#000" stroke="#000" stroke-width="0.45" text-anchor="start" >Missing Rate 70% : 0.746</text>
</g>
<clipPath id="dc"><rect x="1257.6" y="1168.3" width="811" height="632.7"/></clipPath>
<clipPath id="dg"><rect x="1258.8" y="1168.3" width="809.8" height="632.7"/></clipPath>
<g>
<line x1="1287.6" y1="1801" x2="2038.6" y2="1801" stroke="#000" stroke-width="2.5" stroke-linecap="round"/>
<line x1="1287.6" y1="1801" x2="1287.6" y2="1824.5" stroke="#000" stroke-width="2.5" stroke-linecap="round"/>
<text transform="translate(1287.9 1886.2) scale(1 1.03)" font-size="39.2" fill="#000" stroke="#000" stroke-width="0.45" text-anchor="middle" >0.00</text>
<line x1="1537.9" y1="1801" x2="1537.9" y2="1824.5" stroke="#000" stroke-width="2.5" stroke-linecap="round"/>
<text transform="translate(1538.2 1886.2) scale(1 1.03)" font-size="39.2" fill="#000" stroke="#000" stroke-width="0.45" text-anchor="middle" >0.05</text>
<line x1="1788.3" y1="1801" x2="1788.3" y2="1824.5" stroke="#000" stroke-width="2.5" stroke-linecap="round"/>
<text transform="translate(1788.6 1886.2) scale(1 1.03)" font-size="39.2" fill="#000" stroke="#000" stroke-width="0.45" text-anchor="middle" >0.10</text>
<line x1="2038.6" y1="1801" x2="2038.6" y2="1824.5" stroke="#000" stroke-width="2.5" stroke-linecap="round"/>
<text transform="translate(2038.9 1886.2) scale(1 1.03)" font-size="39.2" fill="#000" stroke="#000" stroke-width="0.45" text-anchor="middle" >0.15</text>
<line x1="1257.6" y1="1749.4" x2="1257.6" y2="1191.5" stroke="#000" stroke-width="2.5" stroke-linecap="round"/>
<line x1="1234.1" y1="1749.4" x2="1257.6" y2="1749.4" stroke="#000" stroke-width="2.5" stroke-linecap="round"/>
<text transform="translate(1201.6 1748.6) rotate(-90) scale(1 1.03)" font-size="39.2" fill="#000" stroke="#000" stroke-width="0.45" text-anchor="middle" >0.0</text>
<line x1="1234.1" y1="1637.8" x2="1257.6" y2="1637.8" stroke="#000" stroke-width="2.5" stroke-linecap="round"/>
<text transform="translate(1201.6 1637) rotate(-90) scale(1 1.03)" font-size="39.2" fill="#000" stroke="#000" stroke-width="0.45" text-anchor="middle" >0.2</text>
<line x1="1234.1" y1="1526.2" x2="1257.6" y2="1526.2" stroke="#000" stroke-width="2.5" stroke-linecap="round"/>
<text transform="translate(1201.6 1525.4) rotate(-90) scale(1 1.03)" font-size="39.2" fill="#000" stroke="#000" stroke-width="0.45" text-anchor="middle" >0.4</text>
<line x1="1234.1" y1="1414.7" x2="1257.6" y2="1414.7" stroke="#000" stroke-width="2.5" stroke-linecap="round"/>
<text transform="translate(1201.6 1413.9) rotate(-90) scale(1 1.03)" font-size="39.2" fill="#000" stroke="#000" stroke-width="0.45" text-anchor="middle" >0.6</text>
<line x1="1234.1" y1="1303.1" x2="1257.6" y2="1303.1" stroke="#000" stroke-width="2.5" stroke-linecap="round"/>
<text transform="translate(1201.6 1302.3) rotate(-90) scale(1 1.03)" font-size="39.2" fill="#000" stroke="#000" stroke-width="0.45" text-anchor="middle" >0.8</text>
<line x1="1234.1" y1="1191.5" x2="1257.6" y2="1191.5" stroke="#000" stroke-width="2.5" stroke-linecap="round"/>
<text transform="translate(1201.6 1190.7) rotate(-90) scale(1 1.03)" font-size="39.2" fill="#000" stroke="#000" stroke-width="0.45" text-anchor="middle" >1.0</text>
<g clip-path="url(#dg)">
<line x1="1287.6" y1="1168.3" x2="1287.6" y2="1801" stroke="#ebebeb" stroke-width="3.0" />
<line x1="1537.9" y1="1168.3" x2="1537.9" y2="1801" stroke="#ebebeb" stroke-width="3.0" />
<line x1="1788.3" y1="1168.3" x2="1788.3" y2="1801" stroke="#ebebeb" stroke-width="3.0" />
<line x1="2038.6" y1="1168.3" x2="2038.6" y2="1801" stroke="#ebebeb" stroke-width="3.0" />
<line x1="1257.6" y1="1749.4" x2="2068.6" y2="1749.4" stroke="#ebebeb" stroke-width="3.0" />
<line x1="1257.6" y1="1637.8" x2="2068.6" y2="1637.8" stroke="#ebebeb" stroke-width="3.0" />
<line x1="1257.6" y1="1526.2" x2="2068.6" y2="1526.2" stroke="#ebebeb" stroke-width="3.0" />
<line x1="1257.6" y1="1414.7" x2="2068.6" y2="1414.7" stroke="#ebebeb" stroke-width="3.0" />
<line x1="1257.6" y1="1303.1" x2="2068.6" y2="1303.1" stroke="#ebebeb" stroke-width="3.0" />
<line x1="1257.6" y1="1191.5" x2="2068.6" y2="1191.5" stroke="#ebebeb" stroke-width="3.0" />
</g>
<g clip-path="url(#dc)">
<line x1="1287.6" y1="1749.4" x2="2038.6" y2="1749.4" stroke="#000" stroke-width="3.9" stroke-linecap="round"/>
<line x1="1287.6" y1="1191.5" x2="1320.4" y2="1801" stroke="#bebebe" stroke-width="3.6" />
<path d="M1287.6,1191.5 L1291.4,1253.3 L1295.0,1314.3 L1298.7,1363.2 L1302.7,1400.0 L1305.7,1415.9 L1309.4,1431.8 L1314.3,1447.8 L1320.4,1462.4 L1327.8,1480.8 L1333.9,1499.2 L1340.0,1512.7 L1346.1,1528.6 L1353.5,1545.7 L1358.4,1550.0 L1363.3,1560.4 L1368.2,1567.8 L1373.1,1571.4 L1378.0,1578.8 L1382.9,1587.3 L1387.8,1591.0 L1392.7,1597.8 L1397.6,1603.3 L1403.7,1608.2 L1412.2,1614.9 L1417.1,1621.0 L1422.0,1623.8 L1426.9,1627.5 L1431.8,1631.4 L1432.9,1632.9 L1440.2,1639.0 L1446.3,1643.3 L1452.4,1646.3 L1457.3,1649.4 L1463.5,1653.7 L1468.4,1657.3 L1473.3,1659.8 L1478.2,1663.5 L1483.1,1665.9 L1488.0,1667.8 L1494.1,1669.6 L1500.2,1673.3 L1506.3,1676.9 L1512.4,1678.8 L1517.3,1682.4 L1523.5,1686.7 L1528.4,1689.2 L1535.7,1691.0 L1541.8,1693.5 L1548.0,1695.3 L1554.1,1695.3 L1560.2,1694.7 L1566.3,1695.3 L1570.0,1695.3 L1572.2,1695.3 L1578.4,1695.9 L1584.5,1699.0 L1590.6,1700.2 L1596.7,1701.4 L1602.9,1702.7 L1609.0,1703.9 L1615.1,1705.7 L1621.2,1706.9 L1628.6,1706.9 L1635.9,1706.3 L1643.3,1706.6 L1648.2,1707.6 L1653.1,1707.6 L1659.2,1709.4 L1666.5,1709.4 L1672.7,1709.6 L1677.6,1709.4 L1682.4,1710.0 L1687.3,1711.2 L1693.5,1711.2 L1700.8,1712.4 L1706.9,1713.1 L1713.1,1713.1 L1719.2,1714.3 L1725.3,1714.3 L1731.4,1715.5 L1737.6,1717.3 L1743.7,1718.0 L1751.0,1719.2 L1757.1,1721.0 L1763.3,1722.2 L1770.6,1722.2 L1778.0,1722.2 L1784.1,1724.1 L1792.7,1724.4 L1800.0,1724.7 L1807.2,1725.3 L1813.9,1727.6 L1823.2,1729.3 L1833.8,1731.2 L1843.1,1732.0 L1853.7,1732.5 L1864.3,1733.8 L1874.9,1735.6 L1885.5,1737.3 L1896.1,1739.5 L1905.4,1740.9 L1916.0,1742.2 L1926.6,1742.9 L1935.9,1743.5 L1946.5,1744.2 L1955.8,1745.5 L1966.4,1746.2 L1978.4,1746.8 L1986.3,1747.9 L1993.0,1747.1 L1999.6,1748.2 L2007.6,1747.9 L2015.5,1748.2 L2023.5,1748.8 L2031.4,1749.5 L2038.7,1750.8" fill="none" stroke="#ff0000" stroke-width="3.9" stroke-linejoin="round" stroke-linecap="round"/>
<path d="M1287.6,1191.5 L1291.4,1253.3 L1295.0,1314.3 L1298.7,1363.2 L1302.7,1400.0 L1305.1,1415.9 L1307.6,1431.8 L1310.6,1451.4 L1316.7,1463.7 L1322.9,1479.6 L1329.0,1493.1 L1333.9,1507.8 L1341.2,1524.9 L1347.3,1535.9 L1352.2,1549.4 L1357.1,1560.4 L1363.3,1572.7 L1368.2,1576.3 L1373.1,1583.7 L1378.0,1592.2 L1382.9,1599.6 L1387.8,1609.4 L1392.7,1613.1 L1397.6,1620.4 L1402.4,1623.5 L1408.6,1625.9 L1414.7,1629.6 L1419.6,1632.0 L1425.5,1638.4 L1432.9,1645.1 L1437.8,1647.6 L1442.7,1650.0 L1447.6,1651.8 L1454.9,1656.7 L1461.0,1661.0 L1467.1,1664.7 L1472.0,1666.5 L1478.2,1669.6 L1484.3,1672.7 L1490.4,1674.5 L1496.5,1675.7 L1502.7,1677.6 L1508.8,1681.2 L1514.9,1682.4 L1521.0,1685.5 L1527.1,1688.0 L1533.3,1689.8 L1538.2,1690.4 L1544.3,1692.2 L1550.4,1694.1 L1556.5,1695.3 L1562.7,1697.8 L1567.6,1699.6 L1570.0,1699.6 L1572.2,1699.6 L1578.4,1700.8 L1584.5,1702.0 L1590.6,1703.3 L1596.7,1704.5 L1602.9,1705.7 L1609.0,1706.9 L1612.7,1708.8 L1618.8,1708.5 L1626.1,1709.0 L1633.5,1709.4 L1639.6,1709.4 L1645.7,1710.6 L1651.8,1710.0 L1658.0,1712.4 L1664.1,1713.1 L1672.7,1712.4 L1677.6,1714.3 L1682.4,1715.5 L1687.3,1716.7 L1693.5,1716.7 L1699.6,1719.2 L1704.5,1720.4 L1713.1,1719.8 L1718.0,1721.6 L1724.1,1724.7 L1731.4,1725.9 L1738.8,1725.9 L1746.1,1726.5 L1753.5,1728.4 L1760.8,1728.4 L1768.2,1728.4 L1774.3,1729.6 L1779.2,1730.8 L1786.5,1730.8 L1792.7,1731.8 L1800.0,1733.3 L1803.3,1734.2 L1812.6,1736.2 L1820.5,1736.9 L1828.5,1736.9 L1836.4,1737.6 L1847.0,1738.2 L1857.7,1738.6 L1866.9,1740.2 L1877.6,1740.9 L1888.2,1741.5 L1898.8,1742.2 L1909.4,1743.5 L1917.3,1745.2 L1928.0,1745.8 L1935.9,1746.6 L1943.9,1746.2 L1951.8,1746.6 L1959.8,1747.9 L1967.8,1749.2 L1978.4,1750.2 L1989.0,1751.5 L1999.6,1753.5 L2010.2,1754.1 L2018.2,1753.7 L2026.1,1754.8 L2034.1,1755.5 L2038.7,1756.1" fill="none" stroke="#00ff00" stroke-width="3.9" stroke-linejoin="round" stroke-linecap="round"/>
<path d="M1287.6,1191.5 L1291.4,1253.3 L1295.0,1314.3 L1298.7,1363.2 L1302.7,1400.0 L1304.5,1415.9 L1306.3,1431.8 L1308.8,1452.7 L1311.8,1472.2 L1316.7,1484.5 L1322.9,1494.3 L1327.8,1506.5 L1332.7,1522.4 L1338.8,1534.7 L1343.7,1544.5 L1347.3,1559.2 L1352.2,1575.1 L1358.4,1583.7 L1363.3,1595.9 L1368.2,1603.3 L1374.3,1610.6 L1379.2,1620.4 L1385.3,1632.0 L1386.3,1635.3 L1393.7,1641.4 L1401.0,1646.3 L1407.1,1650.0 L1413.3,1651.2 L1418.2,1655.5 L1423.1,1658.0 L1428.0,1662.9 L1432.9,1664.7 L1437.8,1672.7 L1442.7,1675.7 L1447.6,1678.8 L1452.4,1683.1 L1457.3,1684.3 L1462.2,1688.0 L1468.4,1691.6 L1474.5,1695.3 L1481.8,1697.8 L1489.2,1700.8 L1496.5,1703.3 L1501.4,1705.1 L1507.6,1708.2 L1512.4,1709.4 L1518.6,1713.1 L1525.9,1715.5 L1532.0,1718.0 L1538.2,1719.2 L1545.5,1721.0 L1554.1,1722.2 L1562.7,1724.7 L1570.0,1725.3 L1574.7,1725.9 L1582.0,1724.9 L1588.2,1724.7 L1595.5,1726.5 L1601.6,1727.1 L1609.0,1727.1 L1615.1,1728.4 L1621.2,1730.2 L1627.3,1732.0 L1633.5,1734.5 L1639.6,1735.7 L1645.7,1736.3 L1653.1,1736.9 L1660.4,1738.2 L1667.8,1738.8 L1676.3,1738.8 L1682.4,1740.0 L1688.6,1740.6 L1697.1,1741.2 L1704.5,1741.2 L1711.8,1741.6 L1719.2,1742.1 L1725.3,1743.1 L1731.4,1743.7 L1737.6,1744.3 L1743.7,1744.9 L1748.6,1745.5 L1753.5,1744.9 L1760.8,1745.5 L1768.2,1745.5 L1775.5,1745.3 L1782.9,1745.5 L1790.2,1745.8 L1800.0,1746.1 L1808.6,1746.2 L1820.5,1745.5 L1828.5,1746.8 L1836.4,1747.5 L1845.7,1747.5 L1853.7,1748.8 L1864.3,1749.2 L1876.2,1749.2 L1888.2,1749.5 L1898.8,1749.8 L1909.4,1750.2 L1920.0,1750.8 L1930.6,1751.5 L1941.2,1752.1 L1951.8,1752.8 L1962.4,1754.1 L1973.1,1754.8 L1983.7,1755.1 L1993.0,1755.9 L2002.2,1757.4 L2012.9,1759.4 L2023.5,1761.2 L2032.8,1762.1 L2038.7,1763.4" fill="none" stroke="#0000ff" stroke-width="3.9" stroke-linejoin="round" stroke-linecap="round"/>
<path d="M1287.6,1191.5 L1291.4,1253.3 L1295.0,1314.3 L1298.7,1363.2 L1302.7,1400.0 L1304.5,1415.9 L1306.3,1436.7 L1308.8,1458.8 L1310.6,1475.9 L1314.3,1488.2 L1319.2,1499.2 L1322.9,1510.2 L1326.5,1524.9 L1331.4,1535.9 L1335.1,1545.7 L1337.6,1553.1 L1343.7,1560.4 L1348.6,1569.0 L1353.5,1582.4 L1358.4,1588.6 L1362.0,1599.6 L1366.9,1608.2 L1371.8,1616.7 L1378.0,1624.1 L1382.9,1632.0 L1383.9,1634.1 L1391.2,1639.0 L1397.3,1643.9 L1403.5,1650.0 L1407.1,1658.6 L1413.3,1663.5 L1418.2,1668.4 L1424.3,1670.8 L1431.6,1674.5 L1437.8,1679.4 L1443.9,1681.8 L1448.8,1685.5 L1454.9,1688.0 L1461.0,1691.0 L1468.4,1694.1 L1474.5,1699.0 L1481.8,1700.8 L1489.2,1703.9 L1496.5,1705.1 L1502.7,1708.2 L1508.8,1710.6 L1514.9,1712.4 L1521.0,1713.7 L1527.1,1716.1 L1533.3,1718.6 L1538.2,1719.2 L1544.3,1721.0 L1550.4,1721.6 L1556.5,1723.5 L1562.7,1725.3 L1570.0,1725.9 L1572.2,1725.9 L1578.4,1726.5 L1584.5,1727.8 L1591.8,1729.6 L1598.0,1730.2 L1605.3,1731.4 L1612.7,1732.0 L1620.0,1732.7 L1627.3,1733.9 L1633.5,1734.5 L1640.8,1734.7 L1648.2,1734.7 L1655.5,1735.7 L1662.9,1736.0 L1670.2,1736.0 L1677.6,1735.7 L1684.9,1736.3 L1692.2,1736.9 L1698.4,1736.7 L1705.7,1737.6 L1713.1,1737.6 L1720.4,1737.2 L1727.8,1737.6 L1736.3,1737.2 L1743.7,1737.2 L1751.0,1737.6 L1758.4,1737.6 L1765.7,1738.4 L1771.8,1738.2 L1778.0,1737.6 L1785.3,1738.4 L1792.7,1738.8 L1800.0,1739.4 L1805.9,1740.2 L1816.5,1739.9 L1827.1,1740.5 L1837.8,1741.5 L1848.4,1740.9 L1859.0,1741.8 L1869.6,1743.5 L1880.2,1744.2 L1890.8,1745.2 L1901.4,1744.8 L1909.4,1744.8 L1914.7,1748.2 L1922.7,1748.8 L1933.3,1748.8 L1942.6,1749.2 L1951.8,1748.8 L1959.8,1749.5 L1967.8,1750.6 L1978.4,1750.8 L1989.0,1750.8 L1999.6,1751.5 L2007.6,1752.8 L2015.5,1752.4 L2022.1,1751.9 L2028.8,1754.1 L2038.7,1754.8" fill="none" stroke="#a020f0" stroke-width="3.9" stroke-linejoin="round" stroke-linecap="round"/>
<path d="M1287.6,1191.5 L1291.4,1253.3 L1295.0,1314.3 L1298.7,1363.2 L1302.0,1400.0 L1303.9,1415.9 L1306.3,1442.9 L1309.4,1473.5 L1313.1,1498.0 L1316.7,1516.3 L1320.4,1532.2 L1324.1,1543.3 L1328.4,1549.4 L1331.4,1559.2 L1333.9,1571.4 L1337.6,1581.2 L1343.7,1591.0 L1348.6,1600.8 L1352.2,1610.6 L1357.1,1620.4 L1362.0,1630.2 L1363.3,1632.0 L1368.0,1642.0 L1372.9,1647.6 L1377.8,1651.2 L1383.9,1653.7 L1388.8,1659.8 L1393.7,1664.7 L1399.8,1669.6 L1405.9,1676.3 L1410.8,1680.0 L1416.9,1683.7 L1423.1,1687.3 L1428.0,1689.8 L1432.9,1692.9 L1437.8,1694.7 L1445.1,1696.5 L1451.2,1699.0 L1457.3,1702.7 L1462.2,1704.5 L1468.4,1708.8 L1474.5,1708.8 L1481.8,1710.0 L1488.0,1711.8 L1492.9,1712.4 L1499.0,1714.9 L1503.9,1715.5 L1510.0,1718.0 L1517.3,1721.6 L1522.2,1722.2 L1529.6,1724.7 L1536.9,1726.5 L1544.3,1728.4 L1550.4,1729.0 L1557.8,1730.8 L1565.1,1731.4 L1570.0,1732.0 L1574.7,1731.8 L1582.0,1732.7 L1589.4,1733.0 L1595.5,1731.8 L1601.6,1733.3 L1609.0,1734.5 L1616.3,1735.7 L1623.7,1736.3 L1631.0,1737.6 L1638.4,1738.8 L1643.3,1740.0 L1650.6,1740.4 L1658.0,1740.0 L1664.1,1741.2 L1670.2,1742.4 L1676.3,1743.3 L1682.4,1743.7 L1689.8,1744.3 L1697.1,1744.9 L1704.5,1744.0 L1711.8,1744.3 L1719.2,1744.9 L1726.5,1745.3 L1733.9,1746.7 L1741.2,1747.3 L1748.6,1747.3 L1753.5,1746.7 L1760.8,1747.3 L1768.2,1747.0 L1775.5,1746.7 L1782.9,1747.0 L1790.2,1747.7 L1800.0,1748.9 L1807.2,1749.5 L1816.5,1749.2 L1827.1,1748.8 L1837.8,1749.8 L1848.4,1750.2 L1859.0,1750.2 L1869.6,1750.6 L1880.2,1751.5 L1890.8,1751.5 L1901.4,1750.8 L1912.0,1751.1 L1922.7,1751.5 L1933.3,1751.9 L1943.9,1751.5 L1951.8,1751.1 L1962.4,1752.1 L1973.1,1751.9 L1983.7,1752.1 L1994.3,1752.1 L2002.2,1751.9 L2010.2,1750.8 L2018.2,1749.8 L2023.5,1749.5 L2028.8,1751.5 L2038.7,1751.9" fill="none" stroke="#ffa500" stroke-width="3.9" stroke-linejoin="round" stroke-linecap="round"/>
<path d="M1287.6,1191.5 L1291.4,1253.3 L1295.0,1314.3 L1298.7,1363.2 L1302.0,1400.0 L1303.9,1415.9 L1306.3,1442.9 L1308.8,1467.3 L1311.2,1488.2 L1314.3,1510.2 L1316.7,1526.1 L1319.2,1537.1 L1322.2,1546.9 L1326.5,1553.1 L1331.4,1562.9 L1336.3,1571.4 L1342.4,1583.7 L1348.6,1592.2 L1353.5,1603.3 L1358.4,1614.3 L1363.3,1622.9 L1368.2,1630.2 L1369.4,1632.0 L1370.4,1636.5 L1376.5,1643.9 L1382.7,1650.0 L1387.6,1656.7 L1392.4,1659.8 L1397.3,1664.7 L1402.2,1668.4 L1408.4,1672.0 L1413.3,1675.7 L1418.2,1678.8 L1423.1,1684.3 L1428.0,1686.7 L1432.9,1687.3 L1437.8,1688.6 L1442.7,1691.0 L1447.6,1694.7 L1452.4,1695.9 L1458.6,1698.4 L1463.5,1700.2 L1468.4,1700.2 L1474.5,1702.7 L1481.8,1702.7 L1488.0,1705.1 L1495.3,1706.9 L1501.4,1709.4 L1508.8,1712.4 L1516.1,1714.9 L1522.2,1717.3 L1529.6,1720.4 L1536.9,1722.9 L1543.1,1725.3 L1549.2,1727.1 L1556.5,1727.1 L1562.7,1728.4 L1570.0,1730.2 L1573.5,1729.8 L1579.6,1730.8 L1585.7,1731.8 L1593.1,1732.0 L1598.0,1736.3 L1604.1,1736.9 L1610.2,1737.9 L1617.6,1738.2 L1624.9,1738.8 L1632.2,1740.0 L1638.4,1741.2 L1643.3,1743.1 L1648.2,1742.4 L1653.1,1741.8 L1658.0,1741.6 L1662.9,1743.7 L1670.2,1745.5 L1677.6,1746.7 L1683.7,1747.3 L1689.8,1748.6 L1695.9,1749.2 L1706.9,1750.2 L1719.2,1750.7 L1731.4,1751.4 L1743.7,1752.9 L1755.9,1754.7 L1768.2,1755.6 L1780.4,1756.5 L1792.7,1757.1 L1800.0,1757.4 L1804.6,1756.8 L1813.9,1756.1 L1824.5,1755.9 L1835.1,1756.1 L1845.7,1758.1 L1853.7,1758.8 L1864.3,1758.1 L1874.9,1757.7 L1885.5,1758.1 L1893.5,1758.8 L1904.1,1757.7 L1914.7,1758.8 L1925.3,1759.0 L1935.9,1759.4 L1946.5,1759.4 L1957.1,1759.4 L1965.1,1760.1 L1975.7,1760.4 L1986.3,1760.1 L1996.9,1759.8 L2007.6,1759.8 L2018.2,1760.1 L2028.8,1760.4 L2038.7,1760.8" fill="none" stroke="#a52a2a" stroke-width="3.9" stroke-linejoin="round" stroke-linecap="round"/>
<path d="M1287.6,1191.5 L1291.4,1253.3 L1295.0,1314.3 L1298.7,1363.2 L1300.2,1400.0 L1302.0,1415.9 L1303.9,1442.9 L1306.3,1473.5 L1308.8,1500.4 L1311.8,1522.4 L1314.3,1537.1 L1316.7,1553.1 L1320.4,1564.1 L1324.1,1572.7 L1329.0,1582.4 L1333.9,1592.2 L1338.8,1603.3 L1342.4,1611.8 L1347.3,1619.2 L1352.2,1632.0 L1356.9,1646.3 L1361.8,1654.9 L1366.7,1663.5 L1371.6,1669.0 L1377.8,1674.5 L1382.7,1683.7 L1387.6,1685.5 L1392.4,1690.4 L1397.3,1692.9 L1403.5,1697.8 L1410.8,1702.0 L1419.4,1705.1 L1428.0,1710.6 L1434.1,1711.8 L1442.7,1714.3 L1447.6,1718.0 L1452.4,1721.6 L1459.8,1723.5 L1465.9,1725.3 L1472.0,1726.5 L1478.2,1725.9 L1484.3,1728.4 L1489.2,1729.6 L1496.5,1729.6 L1502.7,1732.0 L1510.0,1734.5 L1516.1,1735.1 L1525.9,1735.1 L1533.3,1735.1 L1538.2,1734.5 L1548.0,1735.1 L1552.9,1738.2 L1559.0,1739.4 L1565.1,1740.0 L1570.0,1740.6 L1574.7,1741.8 L1582.0,1742.4 L1588.2,1741.8 L1594.3,1742.8 L1601.6,1743.7 L1609.0,1744.3 L1616.3,1744.9 L1623.7,1745.5 L1631.0,1746.1 L1638.4,1747.3 L1645.7,1748.0 L1653.1,1748.6 L1660.4,1748.0 L1667.8,1749.2 L1675.1,1749.8 L1682.4,1750.2 L1689.8,1751.0 L1697.1,1751.0 L1704.5,1751.9 L1711.8,1752.6 L1719.2,1753.1 L1726.5,1753.1 L1733.9,1752.9 L1741.2,1752.9 L1748.6,1752.6 L1755.9,1753.1 L1763.3,1753.5 L1770.6,1754.1 L1778.0,1754.3 L1785.3,1754.3 L1792.7,1754.1 L1800.0,1753.8 L1811.2,1753.7 L1821.8,1753.5 L1832.4,1753.7 L1843.1,1754.1 L1853.7,1754.5 L1864.3,1754.3 L1874.9,1754.1 L1885.5,1754.8 L1896.1,1754.8 L1904.1,1753.7 L1914.7,1754.5 L1925.3,1754.8 L1935.9,1754.8 L1946.5,1755.1 L1957.1,1755.5 L1965.1,1757.2 L1975.7,1757.7 L1986.3,1757.4 L1996.9,1757.2 L2007.6,1757.4 L2018.2,1758.1 L2028.8,1758.5 L2038.7,1758.8" fill="none" stroke="#ffc0cb" stroke-width="3.9" stroke-linejoin="round" stroke-linecap="round"/>
</g>
<text transform="translate(1663.1 1086.3) scale(1 1.03)" font-size="39.2" fill="#000" stroke="#000" stroke-width="0.45" text-anchor="middle" >(d) Decision Curves</text>
<text transform="translate(1663.1 1980.2) scale(1 1.03)" font-size="39.2" fill="#000" stroke="#000" stroke-width="0.45" text-anchor="middle" >High Risk Threshold</text>
<text transform="translate(1107.6 1484.7) rotate(-90) scale(1 1.03)" font-size="39.2" fill="#000" stroke="#000" stroke-width="0.45" text-anchor="middle" >Standardized Net Benefit</text>
<rect x="1619.9" y="1168.6" width="448.3" height="469.9" fill="#fff" stroke="#000" stroke-width="2.5"/>
<line x1="1655.3" y1="1215.2" x2="1725.7" y2="1215.2" stroke="#ff0000" stroke-width="4.0" stroke-linecap="round"/>
<text transform="translate(1761.2 1228.4) scale(1 1.03)" font-size="39.2" fill="#000" stroke="#000" stroke-width="0.45" text-anchor="start" >Missing Rate 10%</text>
<line x1="1655.3" y1="1262.3" x2="1725.7" y2="1262.3" stroke="#00ff00" stroke-width="4.0" stroke-linecap="round"/>
<text transform="translate(1761.2 1275.5) scale(1 1.03)" font-size="39.2" fill="#000" stroke="#000" stroke-width="0.45" text-anchor="start" >Missing Rate 20%</text>
<line x1="1655.3" y1="1309.4" x2="1725.7" y2="1309.4" stroke="#0000ff" stroke-width="4.0" stroke-linecap="round"/>
<text transform="translate(1761.2 1322.6) scale(1 1.03)" font-size="39.2" fill="#000" stroke="#000" stroke-width="0.45" text-anchor="start" >Missing Rate 30%</text>
<line x1="1655.3" y1="1356.5" x2="1725.7" y2="1356.5" stroke="#a020f0" stroke-width="4.0" stroke-linecap="round"/>
<text transform="translate(1761.2 1369.7) scale(1 1.03)" font-size="39.2" fill="#000" stroke="#000" stroke-width="0.45" text-anchor="start" >Missing Rate 40%</text>
<line x1="1655.3" y1="1403.6" x2="1725.7" y2="1403.6" stroke="#ffa500" stroke-width="4.0" stroke-linecap="round"/>
<text transform="translate(1761.2 1416.8) scale(1 1.03)" font-size="39.2" fill="#000" stroke="#000" stroke-width="0.45" text-anchor="start" >Missing Rate 50%</text>
<line x1="1655.3" y1="1450.7" x2="1725.7" y2="1450.7" stroke="#a52a2a" stroke-width="4.0" stroke-linecap="round"/>
<text transform="translate(1761.2 1463.9) scale(1 1.03)" font-size="39.2" fill="#000" stroke="#000" stroke-width="0.45" text-anchor="start" >Missing Rate 60%</text>
<line x1="1655.3" y1="1497.8" x2="1725.7" y2="1497.8" stroke="#ffc0cb" stroke-width="4.0" stroke-linecap="round"/>
<text transform="translate(1761.2 1511) scale(1 1.03)" font-size="39.2" fill="#000" stroke="#000" stroke-width="0.45" text-anchor="start" >Missing Rate 70%</text>
<line x1="1655.3" y1="1544.9" x2="1725.7" y2="1544.9" stroke="#bebebe" stroke-width="4.0" stroke-linecap="round"/>
<text transform="translate(1761.2 1558.1) scale(1 1.03)" font-size="39.2" fill="#000" stroke="#000" stroke-width="0.45" text-anchor="start" >All</text>
<line x1="1655.3" y1="1592" x2="1725.7" y2="1592" stroke="#000" stroke-width="4.0" stroke-linecap="round"/>
<text transform="translate(1761.2 1605.2) scale(1 1.03)" font-size="39.2" fill="#000" stroke="#000" stroke-width="0.45" text-anchor="start" >None</text>
</g>
</svg>
</body></html>
